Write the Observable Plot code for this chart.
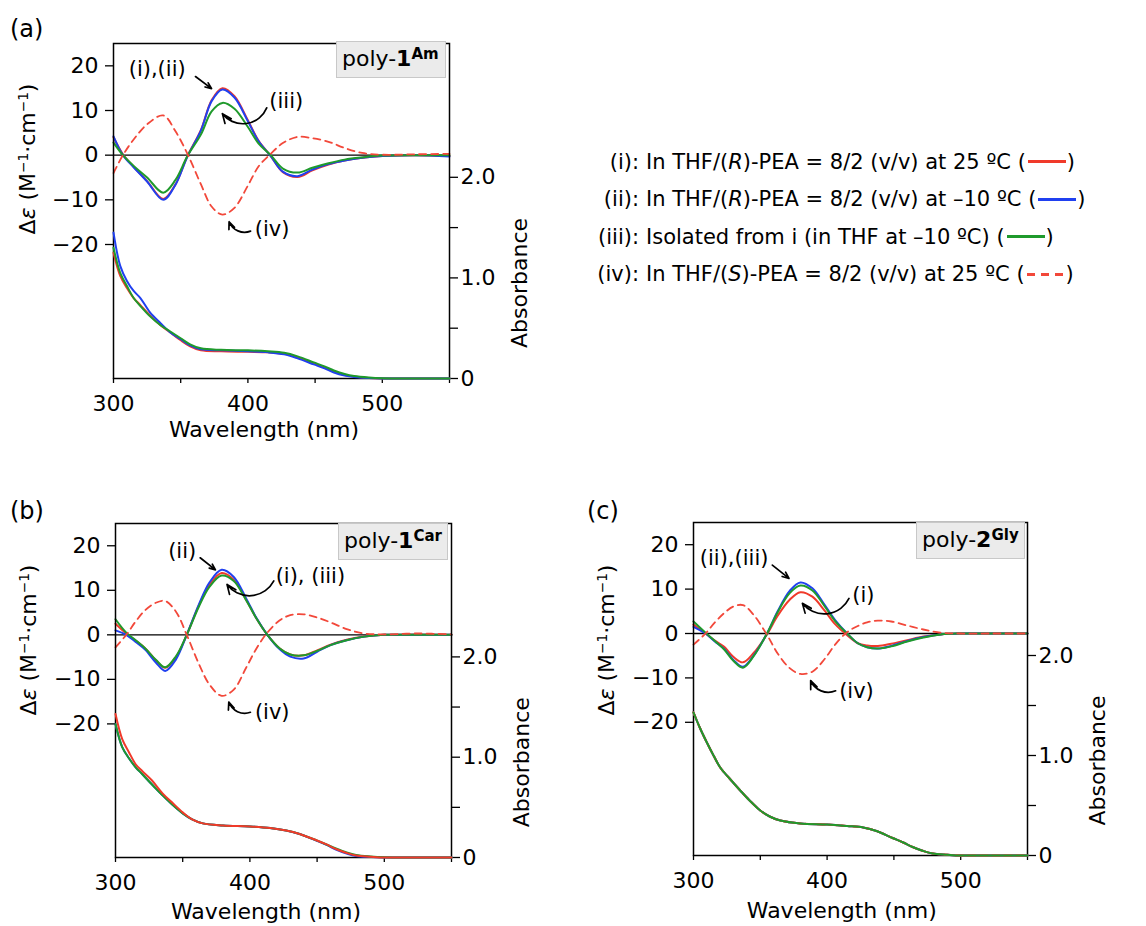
<!DOCTYPE html>
<html><head><meta charset="utf-8">
<script src="https://cdn.jsdelivr.net/npm/d3@7"></script>
<script src="https://cdn.jsdelivr.net/npm/@observablehq/plot@0.6"></script>
<style>
html,body{margin:0;padding:0;background:#fff;overflow:hidden;}
#root{position:relative;width:1146px;height:926px;font-family:"DejaVu Sans",sans-serif;color:#000;overflow:hidden;}
.plab{position:absolute;font-size:24px;line-height:1;}
.ylab{position:absolute;transform:translate(-50%,-50%) rotate(-90deg);white-space:nowrap;font-size:22px;line-height:1;}
.ylab sup,.box sup{font-size:0.62em;vertical-align:0.55em;line-height:0;}
.box{position:absolute;box-sizing:border-box;background:#ebebeb;border:1px solid #c8c8c8;font-size:22px;line-height:34px;padding-left:5px;white-space:nowrap;}
.box sup{font-weight:bold;font-size:15px;vertical-align:7px;}
.lrow{position:absolute;height:37px;line-height:37px;font-size:21px;white-space:nowrap;}
.llab{position:absolute;left:0;width:98px;text-align:right;}
.ltxt{position:absolute;left:105px;}
.sw{display:inline-block;width:38px;height:0;border-top:3px solid;vertical-align:middle;margin:0 1px 0 2px;position:relative;top:-1px;}
.swd{display:inline-block;width:38px;height:3px;vertical-align:middle;margin:0 1px 0 2px;position:relative;top:-1px;background:repeating-linear-gradient(to right,#f2483a 0 8px,transparent 8px 14px);}
</style></head>
<body><div id="root"></div>
<script>
// ---------- data ----------
const seriesNames = ["(i)", "(ii)", "(iii)", "(iv)"];
const legendTexts = [
  'In THF/(<i>R</i>)-PEA = 8/2 (v/v) at 25 ºC (',
  'In THF/(<i>R</i>)-PEA = 8/2 (v/v) at –10 ºC (',
  'Isolated from i (in THF at –10 ºC) (',
  'In THF/(<i>S</i>)-PEA = 8/2 (v/v) at 25 ºC ('
];
const xTicks = [300, 400, 500];
const xMinorTicks = [350, 450, 550];
const cdTicks = [-20, -10, 0, 10, 20];
const cdTickLabels = ["−20", "−10", "0", "10", "20"];
const absTicks = [0, 1, 2];
const absTickLabels = ["0", "1.0", "2.0"];
const absMinorTicks = [0.5, 1.5];

// CD, panel (a)
const wlCdA = [300,307,315,325,337,346,355,365,373,381,390,400,408,417,426,437,448,460,472,485,500,525,550];
const cdA_i   = [4.0,0.2,-2.6,-5.8,-9.8,-6.6,-0.2,5.6,12.3,15.0,13.2,7.8,3.2,-0.2,-3.8,-4.9,-3.4,-2.1,-1.2,-0.6,-0.2,0.0,-0.2];
const cdA_ii  = [4.2,0.0,-2.7,-5.9,-10.0,-6.7,-0.3,5.5,12.1,14.7,12.9,7.6,3.1,-0.2,-3.7,-4.7,-3.2,-2.0,-1.2,-0.6,-0.2,0.0,-0.3];
const cdA_iii = [2.8,0.0,-2.4,-5.0,-8.4,-5.6,-0.2,4.6,9.8,11.7,10.4,6.3,2.6,0.0,-3.0,-3.9,-2.8,-1.8,-1.0,-0.5,-0.1,0.0,0.0];
const cdA_iv  = [-4.0,0.0,3.5,6.9,8.9,5.4,0.3,-6.5,-11.5,-13.3,-11.8,-6.8,-2.5,0.3,2.7,4.1,3.8,3.0,1.6,0.5,0.1,0.2,0.3];

// CD, panel (b)
const wlCdB = [300,308,315,322,330,337,345,353,362,370,379,388,397,405,413,422,430,440,450,460,472,485,500,525,550];
const cdB_i   = [2.5,0.3,-1.3,-3.0,-5.7,-7.4,-5.0,0.0,6.6,11.3,13.9,12.4,8.0,3.6,0.0,-3.0,-4.4,-4.6,-3.5,-2.2,-1.1,-0.4,0.0,0.1,0.0];
const cdB_ii  = [1.0,0.0,-1.6,-3.3,-6.2,-8.1,-5.5,0.0,6.8,11.8,14.6,13.0,8.3,3.7,0.0,-3.2,-4.9,-5.3,-3.8,-2.3,-1.2,-0.4,0.0,0.0,0.0];
const cdB_iii = [3.5,0.5,-1.2,-3.0,-5.6,-7.3,-4.8,0.0,6.3,10.8,13.3,12.1,7.9,3.6,0.0,-3.0,-4.4,-4.6,-3.6,-2.3,-1.2,-0.4,0.0,0.0,0.0];
const cdB_iv  = [-2.8,0.0,3.0,5.5,7.2,7.6,5.2,0.0,-6.5,-11.2,-13.7,-12.3,-7.5,-3.0,0.5,3.2,4.4,4.6,3.9,2.8,1.3,0.3,0.1,0.3,0.1];

// CD, panel (c)
const wlCdC = [300,309,316,323,330,337,345,355,363,372,380,389,398,406,415,423,430,438,448,460,472,485,500,525,550];
const cdC_i   = [2.0,0.0,-1.6,-3.0,-5.3,-6.5,-4.4,-0.2,4.0,7.6,9.3,8.3,5.2,2.1,-0.4,-2.2,-2.7,-2.8,-2.3,-1.5,-0.7,-0.2,0.0,0.0,0.0];
const cdC_ii  = [1.5,0.0,-1.8,-3.5,-6.0,-7.5,-5.0,0.0,5.0,9.6,11.5,10.2,6.5,3.0,0.0,-2.2,-3.1,-3.4,-2.8,-1.7,-0.8,-0.2,0.0,0.0,0.0];
const cdC_iii = [2.7,0.2,-1.7,-3.6,-6.2,-7.7,-5.1,0.0,4.8,9.1,10.8,9.7,6.2,2.8,0.0,-2.2,-3.1,-3.4,-2.9,-1.8,-0.9,-0.2,0.0,0.0,0.0];
const cdC_iv  = [-2.5,0.0,2.5,4.6,6.1,6.4,4.2,-0.3,-4.5,-7.8,-9.1,-8.6,-5.8,-2.5,0.3,1.7,2.5,2.9,2.7,1.8,0.9,0.2,0.0,0.0,0.0];

// Absorbance
const wlAbs = [300,305,310,315,320,327,335,342,350,357,365,380,400,415,427,437,449,457,464,472,479,490,500,520,550];
const absA_i   = [1.25,1.02,0.90,0.80,0.73,0.63,0.53,0.46,0.38,0.32,0.28,0.27,0.265,0.26,0.245,0.21,0.15,0.11,0.07,0.035,0.02,0.005,0,0,0];
const absA_ii  = [1.45,1.12,0.97,0.87,0.80,0.66,0.55,0.46,0.39,0.33,0.29,0.28,0.27,0.26,0.24,0.20,0.14,0.10,0.06,0.03,0.015,0.005,0,0,0];
const absA_iii = [1.30,1.05,0.92,0.80,0.72,0.62,0.53,0.47,0.40,0.34,0.30,0.285,0.28,0.27,0.255,0.22,0.16,0.12,0.08,0.045,0.025,0.01,0.003,0,0];
const absB_i   = [1.43,1.18,1.05,0.93,0.86,0.77,0.64,0.55,0.45,0.38,0.34,0.32,0.31,0.295,0.27,0.235,0.175,0.13,0.085,0.045,0.02,0.008,0,0,0];
const absB_ii  = [1.33,1.10,0.99,0.90,0.83,0.73,0.62,0.53,0.44,0.38,0.34,0.32,0.31,0.295,0.27,0.235,0.17,0.125,0.08,0.04,0.015,0.005,0,0,0];
const absB_iii = [1.33,1.10,0.99,0.90,0.83,0.73,0.62,0.53,0.44,0.38,0.34,0.32,0.31,0.295,0.27,0.235,0.175,0.13,0.09,0.05,0.025,0.01,0.003,0,0];
const absC_i   = [1.43,1.27,1.13,1.00,0.88,0.77,0.65,0.55,0.45,0.39,0.35,0.32,0.31,0.295,0.28,0.245,0.175,0.13,0.085,0.045,0.02,0.008,0,0,0];
const absC_ii  = [1.43,1.27,1.13,1.00,0.88,0.77,0.65,0.55,0.45,0.39,0.35,0.32,0.31,0.295,0.28,0.245,0.175,0.13,0.085,0.045,0.02,0.008,0,0,0];
const absC_iii = [1.43,1.27,1.13,1.00,0.88,0.77,0.65,0.55,0.45,0.39,0.35,0.32,0.31,0.295,0.28,0.245,0.175,0.13,0.085,0.045,0.02,0.008,0,0,0];
const absC_iv  = [1.43,1.27,1.13,1.00,0.88,0.77,0.65,0.55,0.45,0.39,0.35,0.32,0.31,0.295,0.28,0.245,0.175,0.13,0.085,0.045,0.02,0.008,0,0,0];

// annotations (data coordinates: nm, Δε)
const notesA = [{x:332.5,y:19.2,t:"(i),(ii)"},{x:428.5,y:12.1,t:"(iii)"},{x:418,y:-16.6,t:"(iv)"}];
const arrowsA = [{x1:361,y1:17.6,x2:373,y2:14.9,b:0},{x1:414,y1:10.6,x2:381,y2:9.3,b:60},{x1:402,y1:-17,x2:386,y2:-14.9,b:45}];
const notesB = [{x:349.6,y:18.8,t:"(ii)"},{x:445,y:13.2,t:"(i), (iii)"},{x:416.6,y:-17.4,t:"(iv)"}];
const arrowsB = [{x1:363,y1:17.3,x2:374.4,y2:14.6,b:0},{x1:417.8,y1:12.1,x2:383,y2:11.3,b:58},{x1:400.4,y1:-17.4,x2:384.3,y2:-15.1,b:45}];
const notesC = [{x:330.4,y:16.9,t:"(ii),(iii)"},{x:427.2,y:8.7,t:"(i)"},{x:422,y:-12.9,t:"(iv)"}];
const arrowsC = [{x1:359,y1:15.4,x2:371.5,y2:12.4,b:0},{x1:416.4,y1:7.9,x2:381.5,y2:6.8,b:58},{x1:406.4,y1:-12.9,x2:387.7,y2:-10.6,b:45}];

// ---------- drawing ----------
const FONT = '"DejaVu Sans", sans-serif';
const RED = "#f03a2a", BLUE = "#2040f0", GREEN = "#1f9a2c", DASH = "#f2483a";
const rows = (grid, vals) => grid.map((w, k) => ({wl: w, v: vals[k]}));
const root = document.getElementById("root");

function panel(cfg) {
  const wrap = document.createElement("div");
  wrap.style.cssText = `position:absolute;left:${cfg.left}px;top:${cfg.top}px;width:${cfg.w}px;height:${cfg.h}px;`;
  const common = {
    width: cfg.w, height: cfg.h,
    marginLeft: cfg.ml, marginRight: cfg.mr, marginTop: cfg.mt, marginBottom: cfg.mb,
    style: {fontFamily: FONT, fontSize: "22px", background: "transparent", overflow: "visible", color: "black", position: "absolute", left: "0px", top: "0px"}
  };
  const ln = (vals, stroke, extra = {}) =>
    Plot.line(rows(cfg.wlCd, vals), {x: "wl", y: "v", stroke, strokeWidth: 2, curve: "catmull-rom", ...extra});
  const arrowMarks = cfg.arrows.map(a =>
    Plot.arrow([a], {x1: "x1", y1: "y1", x2: "x2", y2: "y2", bend: a.b, stroke: "black", strokeWidth: 1.7, headLength: 9, headAngle: 45}));
  const cd = Plot.plot({
    ...common,
    x: {domain: [300, 550]},
    y: {domain: [-50, 25]},
    marks: [
      Plot.axisX({ticks: [...xTicks, ...xMinorTicks], tickSize: 5, tickFormat: () => "", label: null, strokeWidth: 1.3}),
      Plot.text(xTicks, {x: d => d, text: d => String(d), frameAnchor: "bottom", lineAnchor: "middle", dy: 25, fontSize: 22}),
      Plot.axisY({ticks: cdTicks, tickSize: 8, tickFormat: () => "", label: null, strokeWidth: 1.3}),
      Plot.text(cdTicks, {y: d => d, text: (d, k) => cdTickLabels[k], frameAnchor: "left", textAnchor: "end", lineAnchor: "middle", dx: -15, fontSize: 22}),
      Plot.ruleY([0], {stroke: "black", strokeWidth: 1.4}),
      ln(cfg.cd[0], RED),
      ln(cfg.cd[1], BLUE),
      ln(cfg.cd[2], GREEN),
      ln(cfg.cd[3], DASH, {strokeDasharray: "7,5", strokeWidth: 1.8}),
      Plot.frame({stroke: "black", strokeWidth: 1.5}),
      ...arrowMarks,
      Plot.text(cfg.notes, {x: "x", y: "y", text: "t", fontSize: 21}),
      Plot.text([{t: "Wavelength (nm)", x: cfg.wlLabelX}], {x: "x", text: "t", frameAnchor: "bottom", lineAnchor: "middle", dy: cfg.wlLabelDy, fontSize: 22})
    ]
  });
  const absLn = (vals, stroke, extra = {}) =>
    Plot.line(rows(wlAbs, vals), {x: "wl", y: "v", stroke, strokeWidth: 2, curve: "catmull-rom", ...extra});
  const ab = Plot.plot({
    ...common,
    x: {domain: [300, 550], axis: null},
    y: {domain: [0, 3.33]},
    marks: [
      Plot.axisY({anchor: "right", ticks: [...absTicks, ...absMinorTicks], tickSize: 8, tickFormat: () => "", label: null, strokeWidth: 1.3}),
      Plot.text(absTicks, {y: d => d, text: (d, k) => absTickLabels[k], frameAnchor: "right", textAnchor: "start", lineAnchor: "middle", dx: 11, fontSize: 22}),
      ...cfg.abs.map(s => absLn(s.v, s.c, s.extra || {})),
      Plot.text([{t: "Absorbance", y: 0.95}], {y: "y", text: "t", frameAnchor: "right", textAnchor: "middle", lineAnchor: "middle", dx: 70, rotate: -90, fontSize: 22})
    ]
  });
  wrap.append(cd, ab);
  root.append(wrap);
}

panel({left: 0, top: 0, w: 560, h: 440, ml: 113, mr: 111, mt: 43, mb: 62,
  wlCd: wlCdA, cd: [cdA_i, cdA_ii, cdA_iii, cdA_iv], notes: notesA, arrows: arrowsA,
  wlLabelX: 412, wlLabelDy: 51,
  abs: [{v: absA_i, c: RED}, {v: absA_ii, c: BLUE}, {v: absA_iii, c: GREEN}]});
panel({left: 0, top: 480, w: 560, h: 440, ml: 115, mr: 109, mt: 43, mb: 63,
  wlCd: wlCdB, cd: [cdB_i, cdB_ii, cdB_iii, cdB_iv], notes: notesB, arrows: arrowsB,
  wlLabelX: 412, wlLabelDy: 54,
  abs: [{v: absB_ii, c: BLUE}, {v: absB_iii, c: GREEN}, {v: absB_i, c: RED}]});
panel({left: 580, top: 480, w: 566, h: 440, ml: 113, mr: 119, mt: 42, mb: 65,
  wlCd: wlCdC, cd: [cdC_i, cdC_ii, cdC_iii, cdC_iv], notes: notesC, arrows: arrowsC,
  wlLabelX: 411, wlLabelDy: 55,
  abs: [{v: absC_ii, c: BLUE}, {v: absC_i, c: RED}, {v: absC_iv, c: DASH, extra: {strokeDasharray: "7,5"}}, {v: absC_iii, c: GREEN}]});

// panel letters, y labels, compound boxes
const html = [];
[["(a)", 10, 17], ["(b)", 10, 499], ["(c)", 587, 499]].forEach(([t, x, y]) =>
  html.push(`<div class="plab" style="left:${x}px;top:${y}px">${t}</div>`));
[[28, 159], [29, 640], [607, 640]].forEach(([x, y]) =>
  html.push(`<div class="ylab" style="left:${x}px;top:${y}px">Δ<i>ε</i> (M<sup>−1</sup>·cm<sup>−1</sup>)</div>`));
[[336, 41, 110, "poly-<b>1</b><sup>Am</sup>"], [338, 523, 110, "poly-<b>1</b><sup>Car</sup>"], [916, 522, 109, "poly-<b>2</b><sup>Gly</sup>"]]
  .forEach(([x, y, w, t]) => html.push(`<div class="box" style="left:${x}px;top:${y}px;width:${w}px;height:37px">${t}</div>`));
// legend
const swatches = [`<span class="sw" style="border-color:${RED}"></span>`, `<span class="sw" style="border-color:${BLUE}"></span>`,
  `<span class="sw" style="border-color:${GREEN}"></span>`, `<span class="swd"></span>`];
[162, 199.5, 237, 274.5].forEach((cy, k) => {
  html.push(`<div class="lrow" style="left:541px;top:${cy - 18.5}px"><span class="llab">${seriesNames[k]}:</span><span class="ltxt">${legendTexts[k]}${swatches[k]})</span></div>`);
});
root.insertAdjacentHTML("beforeend", html.join(""));
</script>
</body></html>
